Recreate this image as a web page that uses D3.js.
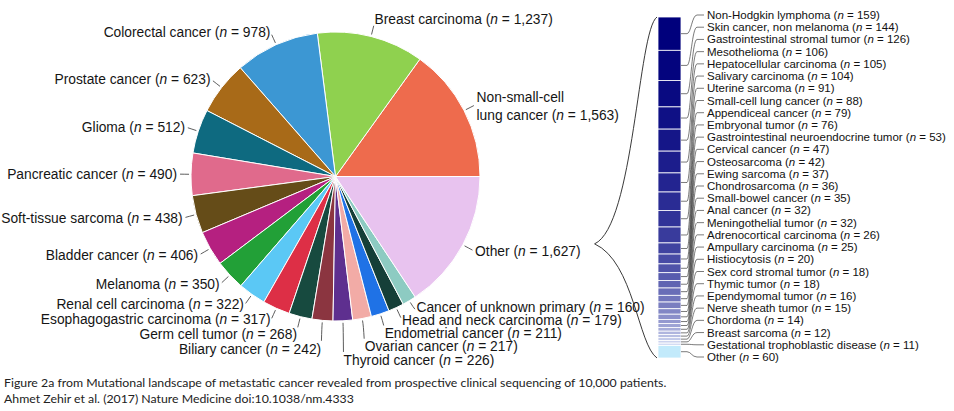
<!DOCTYPE html>
<html><head><meta charset="utf-8">
<script src="https://cdn.jsdelivr.net/npm/d3@7"></script>
<style>body{margin:0;background:#fff} svg{display:block}</style>
</head><body><svg id="c" width="954" height="411"></svg>
<script>
// ---- data ----
const pieNames = ["Non-small-cell\nlung cancer","Breast carcinoma","Colorectal cancer","Prostate cancer","Glioma",
  "Pancreatic cancer","Soft-tissue sarcoma","Bladder cancer","Melanoma","Renal cell carcinoma",
  "Esophagogastric carcinoma","Germ cell tumor","Biliary cancer","Thyroid cancer","Ovarian cancer",
  "Endometrial cancer","Head and neck carcinoma","Cancer of unknown primary","Other"];
const pieValues = [1563,1237,978,623,512,490,438,406,350,322,317,268,242,226,217,211,179,160,1627];
const pieColors = ["#EE6B4D","#8FD14F","#3C97D3","#A86A18","#0E6A80","#E06A8C","#654C18","#B52080","#22A037",
  "#5BC8F5","#DD2F46","#174A3F","#8B3540","#5E2F8F","#F2ABA6","#1F72E6","#153F38","#8DCBC2","#E8C3EF"];
const otherNames = ["Non-Hodgkin lymphoma","Skin cancer, non melanoma","Gastrointestinal stromal tumor","Mesothelioma",
  "Hepatocellular carcinoma","Salivary carcinoma","Uterine sarcoma","Small-cell lung cancer","Appendiceal cancer",
  "Embryonal tumor","Gastrointestinal neuroendocrine tumor","Cervical cancer","Osteosarcoma","Ewing sarcoma",
  "Chondrosarcoma","Small-bowel cancer","Anal cancer","Meningothelial tumor","Adrenocortical carcinoma",
  "Ampullary carcinoma","Histiocytosis","Sex cord stromal tumor","Thymic tumor","Ependymomal tumor",
  "Nerve sheath tumor","Chordoma","Breast sarcoma","Gestational trophoblastic disease","Other"];
const otherValues = [159,144,126,106,105,104,91,88,79,76,53,47,42,37,36,35,32,32,26,25,20,18,18,16,15,14,12,11,60];
const captionLines = ["Figure 2a from Mutational landscape of metastatic cancer revealed from prospective clinical sequencing of 10,000 patients.",
  "Ahmet Zehir et al. (2017) Nature Medicine doi:10.1038/nm.4333"];

// ---- drawing ----
const svg = d3.select("#c");
svg.append("rect").attr("width",954).attr("height",411).attr("fill","#fff");
const fmt = d3.format(",");
const FONT = "'Liberation Sans', Arial, Helvetica, sans-serif";

const cx = 335.5, cy = 176.5, R = 144.5;
const pieData = pieNames.map((n,i)=>({name:n, value:pieValues[i], color:pieColors[i]}));
const pie = d3.pie().sort(null).value(d=>d.value)
  .startAngle(Math.PI/2).endAngle(Math.PI/2 - 2*Math.PI);
const arcs = pie(pieData);
const arc = d3.arc().innerRadius(0).outerRadius(R);
const g = svg.append("g").attr("transform",`translate(${cx},${cy})`);
g.selectAll("path.slice").data(arcs).join("path").attr("class","slice")
  .attr("d",arc).attr("fill",d=>d.data.color).attr("stroke","#fff").attr("stroke-width",1);

// label layout
const LR = R + 14;
const labels = arcs.map(d=>{
  const m = (d.startAngle+d.endAngle)/2;
  const sx = Math.sin(m), sy = -Math.cos(m);
  const natY = LR*sy + (sy < -0.95 ? -4 : 0);
  return {d, sx, sy, right: sx >= 0, natX: LR*sx, natY, y:natY};
});
function relax(list, gap){
  list.sort((a,b)=>a.natY-b.natY);
  for(let it=0; it<300; it++){
    for(let i=0;i<list.length-1;i++){
      const a=list[i], b=list[i+1];
      const ov = gap - (b.y - a.y);
      if(ov>0){ a.y -= ov*0.35; b.y += ov*0.65; }
    }
  }
}
relax(labels.filter(l=>!l.right), 15);
relax(labels.filter(l=>l.right), 13.3);

const lg = g.append("g");
labels.forEach(l=>{
  const p1 = [(R+2)*l.sx, (R+2)*l.sy];
  const c = [(R+7)*l.sx, (R+7)*l.sy];
  const baseY = (R+11)*l.sy;
  const shift = l.y - l.natY;
  const ey = baseY + shift - Math.sign(shift)*Math.min(Math.abs(shift), 5);
  const ex = (R+11)*l.sx;
  const p = d3.path(); p.moveTo(p1[0],p1[1]); p.quadraticCurveTo(c[0],c[1],ex,ey);
  lg.append("path").attr("d",p.toString()).attr("fill","none").attr("stroke","#333").attr("stroke-width",0.8);

  const lines = l.d.data.name.split("\n");
  const tx = l.natX;
  lines.forEach((ln,j)=>{
    const ly = l.y + (j-(lines.length-1)/2)*18 + (lines.length>1?2:0);
    const t = lg.append("text").attr("x",tx).attr("y",ly).attr("dy","0.35em")
      .attr("text-anchor", l.right ? "start" : "end")
      .attr("font-family",FONT).attr("font-size",13.8).attr("fill","#151515");
    if(j===lines.length-1){
      t.append("tspan").text(ln+" (");
      t.append("tspan").attr("font-style","italic").text("n");
      t.append("tspan").text(" = "+fmt(l.d.data.value)+")");
      if(l.d.data.name==="Other") t.attr("id","otherLabel");
    } else t.text(ln);
  });
});

// stacked bar of "Other"
const barX0 = 658, barX1 = 681, barTop = 17, barBot = 358;
const total = d3.sum(otherValues);
const yB = d3.scaleLinear().domain([0,total]).range([barTop,barBot]);
const cum = [0, ...d3.cumsum(otherValues)];
const nMain = otherNames.length-1;
const colorOf = i => i===nMain ? "#C2EAFB" : d3.interpolateRgb("#00007C","#D4DCF3")(Math.pow(i/(nMain-1),1.2));
const segs = otherNames.map((n,i)=>({name:n, value:otherValues[i], y0:cum[i], y1:cum[i+1], i}));
const bg = svg.append("g");
bg.selectAll("rect").data(segs).join("rect")
  .attr("x",barX0).attr("width",barX1-barX0)
  .attr("y",d=>yB(d.y0)).attr("height",d=>yB(d.y1)-yB(d.y0))
  .attr("fill",d=>colorOf(d.i)).attr("stroke","#fff").attr("stroke-width",0.8);

const yL = d3.scalePoint().domain(otherNames).range([15,357]);
segs.forEach(s=>{
  const my = yB((s.y0+s.y1)/2), ly = yL(s.name);
  const p = d3.path();
  p.moveTo(barX1, my); p.lineTo(687, my);
  p.bezierCurveTo(691, my, 692, ly, 697, ly); p.lineTo(704, ly);
  bg.append("path").attr("d",p.toString()).attr("fill","none").attr("stroke","#222").attr("stroke-width",0.6);
  const t = bg.append("text").attr("x",707).attr("y",ly).attr("dy","0.35em")
    .attr("font-family",FONT).attr("font-size",11.5).attr("fill","#111");
  t.append("tspan").text(s.name+" (");
  t.append("tspan").attr("font-style","italic").text("n");
  t.append("tspan").text(" = "+fmt(s.value)+")");
});

// bracket
const ob = document.getElementById("otherLabel").getBBox();
const tipX = cx + ob.x + ob.width + 14, tipY = cy + ob.y + ob.height/2 - 8;
const bp = d3.path();
bp.moveTo(barX0-1, barTop);
bp.bezierCurveTo(638, barTop+13, 634, tipY-18, tipX, tipY);
bp.bezierCurveTo(634, tipY+18, 638, barBot-13, barX0-1, barBot);
svg.append("path").attr("d",bp.toString()).attr("fill","none").attr("stroke","#222").attr("stroke-width",0.9);

// caption
captionLines.forEach((c,i)=>{
  svg.append("text").attr("x",4).attr("y",387+i*16)
    .attr("font-family","Lato, 'Open Sans', sans-serif").attr("font-size",12.3).attr("fill","#222").text(c);
});
</script></body></html>
